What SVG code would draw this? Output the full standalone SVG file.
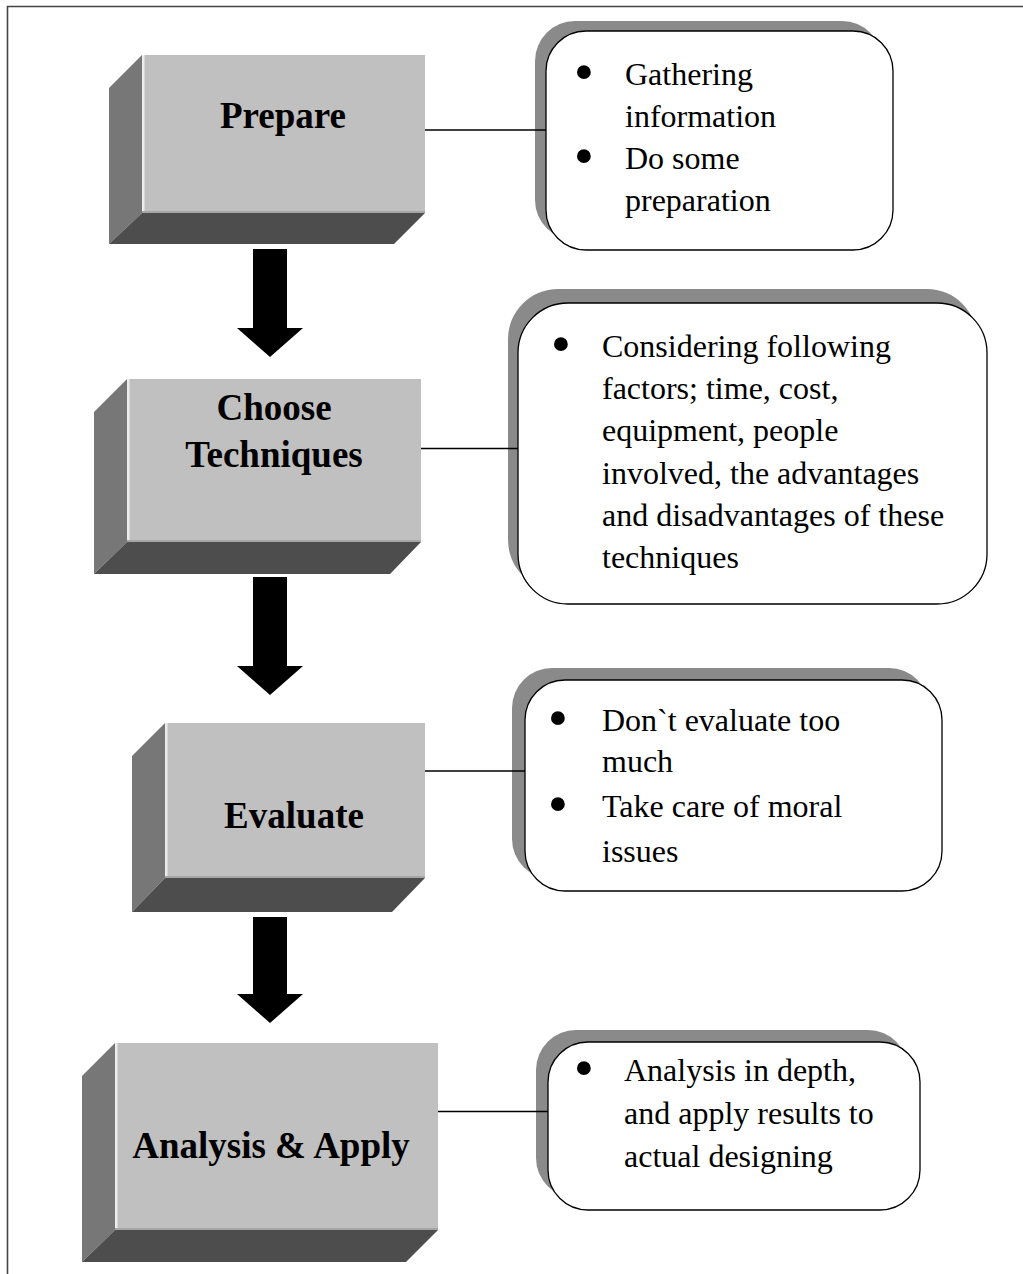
<svg xmlns="http://www.w3.org/2000/svg" width="1023" height="1274" viewBox="0 0 1023 1274">
<style>
.front{fill:#c0c0c0}
.side{fill:#777777}
.bottom{fill:#4d4d4d}
.hl{fill:#ececec}
.shade{fill:#a6a6a6}
.label{font-family:"Liberation Serif","Times New Roman",serif;font-weight:bold;font-size:37px;fill:#000;text-anchor:middle}
.txt{font-family:"Liberation Serif","Times New Roman",serif;font-size:32px;fill:#000}
.bul{font-family:"Liberation Serif","Times New Roman",serif;font-size:58px;fill:#000;text-anchor:middle}
.shadow{fill:#8a8a8a}
.callout{fill:#fff;stroke:#000;stroke-width:1.3}
.conn{stroke:#000;stroke-width:1.3;fill:none}
.arrow{fill:#000}
.frame{stroke:#444;stroke-width:1.6;fill:none}
</style>
<rect width="1023" height="1274" fill="#fff"/>
<path class="frame" d="M7.5,1274 V6.5 H1023"/>

<g id="prepare">
<polygon class="side" points="142,55 109,88 109,244 142,213"/>
<polygon class="bottom" points="142,213 425,213 394,244 109,244"/>
<rect class="front" x="142" y="55" width="283" height="158"/>
<rect class="hl" x="142" y="55" width="2.5" height="158"/>
<rect class="shade" x="142" y="211" width="283" height="2"/>
<text class="label" x="283" y="128">Prepare</text>
</g>

<g id="choose">
<polygon class="side" points="127,379 94,412 94,574 127,542"/>
<polygon class="bottom" points="127,542 421,542 390,574 94,574"/>
<rect class="front" x="127" y="379" width="294" height="163"/>
<rect class="hl" x="127" y="379" width="2.5" height="163"/>
<rect class="shade" x="127" y="540" width="294" height="2"/>
<text class="label" x="274" y="420">Choose</text>
<text class="label" x="274" y="467">Techniques</text>
</g>

<g id="evaluate">
<polygon class="side" points="165,723 132,756 132,912 165,878"/>
<polygon class="bottom" points="165,878 425,878 392,912 132,912"/>
<rect class="front" x="165" y="723" width="260" height="155"/>
<rect class="hl" x="165" y="723" width="2.5" height="155"/>
<rect class="shade" x="165" y="876" width="260" height="2"/>
<text class="label" x="294" y="828">Evaluate</text>
</g>

<g id="analysis">
<polygon class="side" points="115,1043 82,1076 82,1262 115,1230"/>
<polygon class="bottom" points="115,1230 438,1230 406,1262 82,1262"/>
<rect class="front" x="115" y="1043" width="323" height="187"/>
<rect class="hl" x="115" y="1043" width="2.5" height="187"/>
<rect class="shade" x="115" y="1228" width="323" height="2"/>
<text class="label" x="271" y="1158">Analysis &amp; Apply</text>
</g>

<g id="note-prepare">
<rect class="shadow" x="535" y="21" width="347" height="219" rx="40"/>
<rect class="callout" x="546" y="31" width="347" height="219" rx="40"/>
<text class="bul" x="584" y="91">•</text>
<text class="txt" x="625" y="85">Gathering</text>
<text class="txt" x="625" y="127">information</text>
<text class="bul" x="584" y="175">•</text>
<text class="txt" x="625" y="169">Do some</text>
<text class="txt" x="625" y="211">preparation</text>
</g>

<g id="note-choose">
<rect class="shadow" x="508" y="289" width="469" height="301" rx="50"/>
<rect class="callout" x="518" y="303" width="469" height="301" rx="50"/>
<text class="bul" x="561" y="363">•</text>
<text class="txt" x="602" y="357">Considering following</text>
<text class="txt" x="602" y="399">factors; time, cost,</text>
<text class="txt" x="602" y="441">equipment, people</text>
<text class="txt" x="602" y="484">involved, the advantages</text>
<text class="txt" x="602" y="526">and disadvantages of these</text>
<text class="txt" x="602" y="568">techniques</text>
</g>

<g id="note-evaluate">
<rect class="shadow" x="512" y="668" width="417" height="211" rx="40"/>
<rect class="callout" x="525" y="680" width="417" height="211" rx="40"/>
<text class="bul" x="558" y="737">•</text>
<text class="txt" x="602" y="731">Don`t evaluate too</text>
<text class="txt" x="602" y="772">much</text>
<text class="bul" x="558" y="823">•</text>
<text class="txt" x="602" y="817">Take care of moral</text>
<text class="txt" x="602" y="862">issues</text>
</g>

<g id="note-analysis">
<rect class="shadow" x="536" y="1030" width="372" height="168" rx="40"/>
<rect class="callout" x="548" y="1042" width="372" height="168" rx="40"/>
<text class="bul" x="584" y="1087">•</text>
<text class="txt" x="624" y="1081">Analysis in depth,</text>
<text class="txt" x="624" y="1124">and apply results to</text>
<text class="txt" x="624" y="1167">actual designing</text>
</g>

<g id="connectors">
<line class="conn" x1="425" y1="130" x2="546" y2="130"/>
<line class="conn" x1="421" y1="448.5" x2="518" y2="448.5"/>
<line class="conn" x1="425" y1="771" x2="525" y2="771"/>
<line class="conn" x1="438" y1="1111.5" x2="548" y2="1111.5"/>
<polygon class="arrow" points="253,249 287,249 287,328 303,328 270,357 237,328 253,328"/>
<polygon class="arrow" points="253,577 287,577 287,666 303,666 270,695 237,666 253,666"/>
<polygon class="arrow" points="253,917 287,917 287,994 303,994 270,1023 237,994 253,994"/>
</g>
</svg>
